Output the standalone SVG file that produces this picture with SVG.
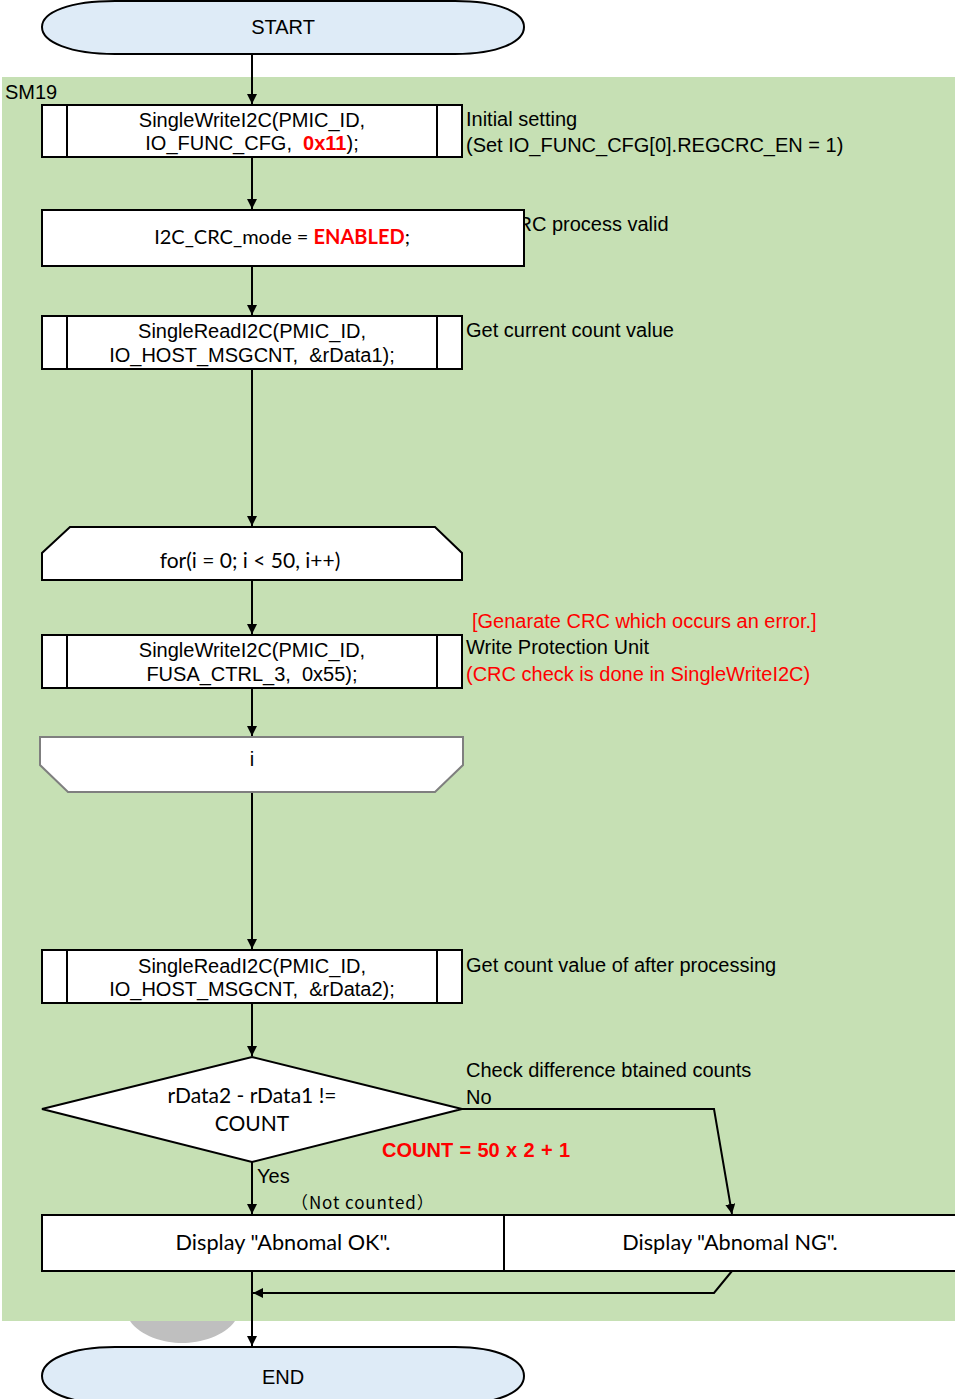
<svg xmlns="http://www.w3.org/2000/svg" width="955" height="1399" viewBox="0 0 955 1399">
  <defs>
    <marker id="arr" markerWidth="12" markerHeight="12" refX="10" refY="5" orient="auto" markerUnits="userSpaceOnUse">
      <path d="M0,0 L10,5 L0,10 Z" fill="#000"/>
    </marker>
    <style>
      .box { fill:#fff; stroke:#000; stroke-width:2; }
      .term { fill:#deebf7; stroke:#000; stroke-width:2; }
      .ln { fill:none; stroke:#000; stroke-width:2; }
      .a { font-family:"Liberation Sans", Arial, sans-serif; font-size:20px; fill:#000; }
      .c { font-family:Lato, "Open Sans", sans-serif; font-size:20px; fill:#000; }
      .c21 { font-size:21px; }
      .c22 { font-size:21.7px; }
      .red { fill:#ff0000; }
      .b { font-weight:bold; }
      .mid { text-anchor:middle; }
    </style>
  </defs>

  <!-- background -->
  <rect x="0" y="0" width="955" height="1399" fill="#fff"/>
  <!-- SM19 region -->
  <rect x="2" y="77" width="953" height="1244" fill="#c6e0b4"/>
  <path d="M130,1321 L235,1321 C225,1336 200,1343 182,1343 C164,1343 140,1336 130,1321 Z" fill="#bfbfbf"/>
  <text x="5" y="99" class="a">SM19</text>

  <!-- connectors -->
  <g id="connectors">
    <line x1="252" y1="54" x2="252" y2="104" class="ln" marker-end="url(#arr)"/>
    <line x1="252" y1="157" x2="252" y2="209" class="ln" marker-end="url(#arr)"/>
    <line x1="252" y1="266" x2="252" y2="315" class="ln" marker-end="url(#arr)"/>
    <line x1="252" y1="369" x2="252" y2="526" class="ln" marker-end="url(#arr)"/>
    <line x1="252" y1="580" x2="252" y2="634" class="ln" marker-end="url(#arr)"/>
    <line x1="252" y1="688" x2="252" y2="736" class="ln" marker-end="url(#arr)"/>
    <line x1="252" y1="792" x2="252" y2="949" class="ln" marker-end="url(#arr)"/>
    <line x1="252" y1="1003" x2="252" y2="1056" class="ln" marker-end="url(#arr)"/>
    <line x1="252" y1="1162" x2="252" y2="1214" class="ln" marker-end="url(#arr)"/>
    <polyline points="462,1109 714,1109 732,1214" class="ln" marker-end="url(#arr)"/>
    <polyline points="732,1271 714,1293 253,1293" class="ln" marker-end="url(#arr)"/>
    <line x1="252" y1="1271" x2="252" y2="1346" class="ln" marker-end="url(#arr)"/>
  </g>

  <!-- START -->
  <g id="start">
    <path d="M115,1 L455,1 C498,1 524,12 524,27 C524,42 498,54 455,54 L115,54 C70,54 42,42 42,27 C42,12 70,1 115,1 Z" class="term"/>
    <text x="283" y="34" class="a mid">START</text>
  </g>

  <!-- Write IO_FUNC_CFG -->
  <g id="write-func-cfg">
    <rect x="42" y="105" width="420" height="52" class="box"/>
    <line x1="67" y1="105" x2="67" y2="157" class="ln"/>
    <line x1="437" y1="105" x2="437" y2="157" class="ln"/>
    <text x="252" y="127" class="a mid">SingleWriteI2C(PMIC_ID,</text>
    <text x="252" y="150" class="a mid" xml:space="preserve">IO_FUNC_CFG,  <tspan class="red b">0x11</tspan>);</text>
    <text x="466" y="126" class="a">Initial setting</text>
    <text x="466" y="152" class="a">(Set IO_FUNC_CFG[0].REGCRC_EN = 1)</text>
  </g>

  <!-- CRC mode -->
  <g id="crc-mode">
    <text x="503" y="231" class="a">CRC process valid</text>
    <rect x="42" y="210" width="482" height="56" class="box"/>
    <text x="282" y="244" class="c mid">I2C_CRC_mode = <tspan class="red b">ENABLED</tspan>;</text>
  </g>

  <!-- Read count 1 -->
  <g id="read-count-1">
    <rect x="42" y="316" width="420" height="53" class="box"/>
    <line x1="67" y1="316" x2="67" y2="369" class="ln"/>
    <line x1="437" y1="316" x2="437" y2="369" class="ln"/>
    <text x="252" y="338" class="a mid">SingleReadI2C(PMIC_ID,</text>
    <text x="252" y="362" class="a mid" xml:space="preserve">IO_HOST_MSGCNT,  &amp;rData1);</text>
    <text x="466" y="337" class="a">Get current count value</text>
  </g>

  <!-- loop start -->
  <g id="loop-start">
    <path d="M70,527 L435,527 L462,553 L462,580 L42,580 L42,553 Z" class="box"/>
    <text x="250" y="568" class="c c21 mid">for(i = 0; i &lt; 50, i++)</text>
  </g>

  <!-- Write FUSA_CTRL_3 -->
  <g id="write-fusa">
    <rect x="42" y="635" width="420" height="53" class="box"/>
    <line x1="67" y1="635" x2="67" y2="688" class="ln"/>
    <line x1="437" y1="635" x2="437" y2="688" class="ln"/>
    <text x="252" y="657" class="a mid">SingleWriteI2C(PMIC_ID,</text>
    <text x="252" y="681" class="a mid" xml:space="preserve">FUSA_CTRL_3,  0x55);</text>
    <text x="472" y="628" class="a red">[Genarate CRC which occurs an error.]</text>
    <text x="466" y="654" class="a">Write Protection Unit</text>
    <text x="466" y="681" class="a red">(CRC check is done in SingleWriteI2C)</text>
  </g>

  <!-- loop end -->
  <g id="loop-end">
    <path d="M40,737 L463,737 L463,765 L435,792 L68,792 L40,765 Z" fill="#fff" stroke="#7f7f7f" stroke-width="2"/>
    <text x="252" y="766" class="a mid">i</text>
  </g>

  <!-- Read count 2 -->
  <g id="read-count-2">
    <rect x="42" y="950" width="420" height="53" class="box"/>
    <line x1="67" y1="950" x2="67" y2="1003" class="ln"/>
    <line x1="437" y1="950" x2="437" y2="1003" class="ln"/>
    <text x="252" y="973" class="a mid">SingleReadI2C(PMIC_ID,</text>
    <text x="252" y="996" class="a mid" xml:space="preserve">IO_HOST_MSGCNT,  &amp;rData2);</text>
    <text x="466" y="972" class="a">Get count value of after processing</text>
  </g>

  <!-- decision -->
  <g id="decision">
    <path d="M252,1057 L462,1109 L252,1162 L42,1109 Z" class="box"/>
    <text x="252" y="1103" class="c c21 mid">rData2 - rData1 !=</text>
    <text x="252" y="1131" class="c c21 mid">COUNT</text>
    <text x="466" y="1077" class="a">Check difference btained counts</text>
    <text x="466" y="1104" class="a">No</text>
    <text x="382" y="1157" class="a red b" word-spacing="0.8">COUNT = 50 x 2 + 1</text>
    <text x="257" y="1183" class="a">Yes</text>
    <text x="291" y="1209" font-family="'Noto Sans CJK JP', sans-serif" font-size="17" letter-spacing="0.9" fill="#000">（Not counted）</text>
  </g>

  <!-- result boxes -->
  <g id="display-ok">
    <rect x="42" y="1215" width="462" height="56" class="box"/>
    <text x="283" y="1250" class="c c22 mid">Display "Abnomal OK".</text>
  </g>
  <g id="display-ng">
    <rect x="504" y="1215" width="460" height="56" class="box"/>
    <text x="730" y="1250" class="c c22 mid">Display "Abnomal NG".</text>
  </g>

  <!-- END -->
  <g id="end">
    <path d="M115,1347 L455,1347 C498,1347 524,1360 524,1376 C524,1392 498,1404 455,1404 L115,1404 C70,1404 42,1392 42,1376 C42,1360 70,1347 115,1347 Z" class="term"/>
    <text x="283" y="1384" class="a mid">END</text>
  </g>
</svg>
